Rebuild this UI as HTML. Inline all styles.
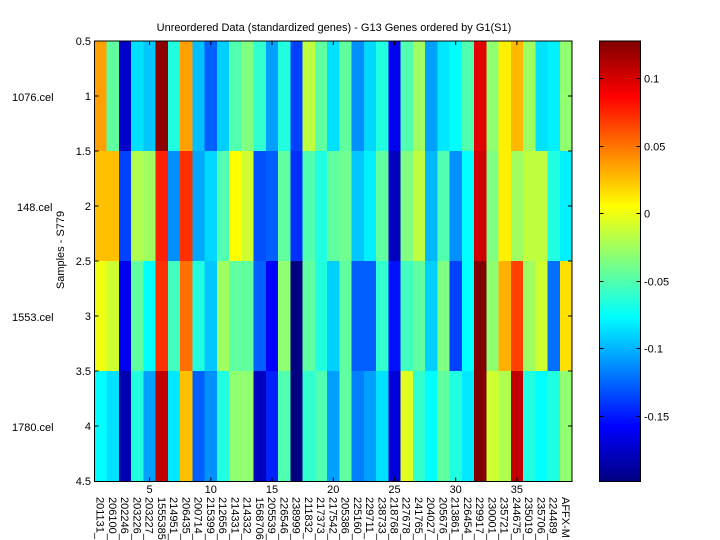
<!DOCTYPE html>
<html><head><meta charset="utf-8"><style>
html,body{margin:0;padding:0;background:#fff;}
svg{display:block;font-family:"Liberation Sans",sans-serif;}
</style></head><body>
<svg width="720" height="540" viewBox="0 0 720 540" xmlns="http://www.w3.org/2000/svg">
<defs>
<linearGradient id="jet" x1="0" y1="1" x2="0" y2="0">
<stop offset="0" stop-color="#000080"/>
<stop offset="0.125" stop-color="#0000ff"/>
<stop offset="0.375" stop-color="#00ffff"/>
<stop offset="0.625" stop-color="#ffff00"/>
<stop offset="0.875" stop-color="#ff0000"/>
<stop offset="1" stop-color="#800000"/>
</linearGradient>
</defs>
<rect width="720" height="540" fill="#fff"/>
<g transform="translate(94.5,41) scale(12.244,110)" shape-rendering="crispEdges">
<g id="r0">
<rect x="0" y="0" width="1.05" height="1.01" fill="#ffa000"/><rect x="1" y="0" width="1.05" height="1.01" fill="#60ffa0"/><rect x="2" y="0" width="1.05" height="1.01" fill="#0000c8"/><rect x="3" y="0" width="1.05" height="1.01" fill="#00e0ff"/><rect x="4" y="0" width="1.05" height="1.01" fill="#00c8ff"/><rect x="5" y="0" width="1.05" height="1.01" fill="#8c0000"/><rect x="6" y="0" width="1.05" height="1.01" fill="#20ffe0"/><rect x="7" y="0" width="1.05" height="1.01" fill="#ffa000"/><rect x="8" y="0" width="1.05" height="1.01" fill="#00c0ff"/><rect x="9" y="0" width="1.05" height="1.01" fill="#0060ff"/><rect x="10" y="0" width="1.05" height="1.01" fill="#00d0ff"/><rect x="11" y="0" width="1.05" height="1.01" fill="#50ffb0"/><rect x="12" y="0" width="1.05" height="1.01" fill="#80ff80"/><rect x="13" y="0" width="1.05" height="1.01" fill="#30ffd0"/><rect x="14" y="0" width="1.05" height="1.01" fill="#00a0ff"/><rect x="15" y="0" width="1.05" height="1.01" fill="#20ffe0"/><rect x="16" y="0" width="1.05" height="1.01" fill="#0040ff"/><rect x="17" y="0" width="1.05" height="1.01" fill="#c0ff40"/><rect x="18" y="0" width="1.05" height="1.01" fill="#60ffa0"/><rect x="19" y="0" width="1.05" height="1.01" fill="#00e0ff"/><rect x="20" y="0" width="1.05" height="1.01" fill="#60ffa0"/><rect x="21" y="0" width="1.05" height="1.01" fill="#0090ff"/><rect x="22" y="0" width="1.05" height="1.01" fill="#00d8ff"/><rect x="23" y="0" width="1.05" height="1.01" fill="#20ffe0"/><rect x="24" y="0" width="1.05" height="1.01" fill="#0000f0"/><rect x="25" y="0" width="1.05" height="1.01" fill="#50ffb0"/><rect x="26" y="0" width="1.05" height="1.01" fill="#a0ff60"/><rect x="27" y="0" width="1.05" height="1.01" fill="#00a0ff"/><rect x="28" y="0" width="1.05" height="1.01" fill="#00e8ff"/><rect x="29" y="0" width="1.05" height="1.01" fill="#00ffff"/><rect x="30" y="0" width="1.05" height="1.01" fill="#50ffb0"/><rect x="31" y="0" width="1.05" height="1.01" fill="#e00000"/><rect x="32" y="0" width="1.05" height="1.01" fill="#90ff70"/><rect x="33" y="0" width="1.05" height="1.01" fill="#fff000"/><rect x="34" y="0" width="1.05" height="1.01" fill="#ffb800"/><rect x="35" y="0" width="1.05" height="1.01" fill="#a0ff60"/><rect x="36" y="0" width="1.05" height="1.01" fill="#00e0ff"/><rect x="37" y="0" width="1.05" height="1.01" fill="#00f0ff"/><rect x="38" y="0" width="1" height="1.01" fill="#90ff70"/>
</g>
<g>
<rect x="0" y="1" width="1.05" height="1.01" fill="#ffc000"/><rect x="1" y="1" width="1.05" height="1.01" fill="#ffc000"/><rect x="2" y="1" width="1.05" height="1.01" fill="#0040ff"/><rect x="3" y="1" width="1.05" height="1.01" fill="#b0ff50"/><rect x="4" y="1" width="1.05" height="1.01" fill="#a0ff60"/><rect x="5" y="1" width="1.05" height="1.01" fill="#ff2000"/><rect x="6" y="1" width="1.05" height="1.01" fill="#0090ff"/><rect x="7" y="1" width="1.05" height="1.01" fill="#ff3000"/><rect x="8" y="1" width="1.05" height="1.01" fill="#00a8ff"/><rect x="9" y="1" width="1.05" height="1.01" fill="#00d8ff"/><rect x="10" y="1" width="1.05" height="1.01" fill="#50ffb0"/><rect x="11" y="1" width="1.05" height="1.01" fill="#ffff00"/><rect x="12" y="1" width="1.05" height="1.01" fill="#d0ff30"/><rect x="13" y="1" width="1.05" height="1.01" fill="#0050ff"/><rect x="14" y="1" width="1.05" height="1.01" fill="#0060ff"/><rect x="15" y="1" width="1.05" height="1.01" fill="#60ffa0"/><rect x="16" y="1" width="1.05" height="1.01" fill="#0030ff"/><rect x="17" y="1" width="1.05" height="1.01" fill="#50ffb0"/><rect x="18" y="1" width="1.05" height="1.01" fill="#20ffe0"/><rect x="19" y="1" width="1.05" height="1.01" fill="#60ffa0"/><rect x="20" y="1" width="1.05" height="1.01" fill="#70ff90"/><rect x="21" y="1" width="1.05" height="1.01" fill="#00c8ff"/><rect x="22" y="1" width="1.05" height="1.01" fill="#00f0ff"/><rect x="23" y="1" width="1.05" height="1.01" fill="#60ffa0"/><rect x="24" y="1" width="1.05" height="1.01" fill="#0000c0"/><rect x="25" y="1" width="1.05" height="1.01" fill="#80ff80"/><rect x="26" y="1" width="1.05" height="1.01" fill="#c0ff40"/><rect x="27" y="1" width="1.05" height="1.01" fill="#00b8ff"/><rect x="28" y="1" width="1.05" height="1.01" fill="#50ffb0"/><rect x="29" y="1" width="1.05" height="1.01" fill="#0090ff"/><rect x="30" y="1" width="1.05" height="1.01" fill="#00ffff"/><rect x="31" y="1" width="1.05" height="1.01" fill="#d00000"/><rect x="32" y="1" width="1.05" height="1.01" fill="#80ff80"/><rect x="33" y="1" width="1.05" height="1.01" fill="#fff000"/><rect x="34" y="1" width="1.05" height="1.01" fill="#a0ff60"/><rect x="35" y="1" width="1.05" height="1.01" fill="#c0ff40"/><rect x="36" y="1" width="1.05" height="1.01" fill="#c0ff40"/><rect x="37" y="1" width="1.05" height="1.01" fill="#20ffe0"/><rect x="38" y="1" width="1" height="1.01" fill="#00f0ff"/>
</g>
<g>
<rect x="0" y="2" width="1.05" height="1.01" fill="#f0ff10"/><rect x="1" y="2" width="1.05" height="1.01" fill="#d0ff30"/><rect x="2" y="2" width="1.05" height="1.01" fill="#0000f0"/><rect x="3" y="2" width="1.05" height="1.01" fill="#60ffa0"/><rect x="4" y="2" width="1.05" height="1.01" fill="#00ffff"/><rect x="5" y="2" width="1.05" height="1.01" fill="#ff3000"/><rect x="6" y="2" width="1.05" height="1.01" fill="#40ffc0"/><rect x="7" y="2" width="1.05" height="1.01" fill="#ff7000"/><rect x="8" y="2" width="1.05" height="1.01" fill="#20ffe0"/><rect x="9" y="2" width="1.05" height="1.01" fill="#00c8ff"/><rect x="10" y="2" width="1.05" height="1.01" fill="#a0ff60"/><rect x="11" y="2" width="1.05" height="1.01" fill="#60ffa0"/><rect x="12" y="2" width="1.05" height="1.01" fill="#60ffa0"/><rect x="13" y="2" width="1.05" height="1.01" fill="#0060ff"/><rect x="14" y="2" width="1.05" height="1.01" fill="#0000ff"/><rect x="15" y="2" width="1.05" height="1.01" fill="#90ff70"/><rect x="16" y="2" width="1.05" height="1.01" fill="#000080"/><rect x="17" y="2" width="1.05" height="1.01" fill="#60ffa0"/><rect x="18" y="2" width="1.05" height="1.01" fill="#20ffe0"/><rect x="19" y="2" width="1.05" height="1.01" fill="#00d0ff"/><rect x="20" y="2" width="1.05" height="1.01" fill="#60ffa0"/><rect x="21" y="2" width="1.05" height="1.01" fill="#0060ff"/><rect x="22" y="2" width="1.05" height="1.01" fill="#0060ff"/><rect x="23" y="2" width="1.05" height="1.01" fill="#30ffd0"/><rect x="24" y="2" width="1.05" height="1.01" fill="#0010ff"/><rect x="25" y="2" width="1.05" height="1.01" fill="#40ffc0"/><rect x="26" y="2" width="1.05" height="1.01" fill="#60ffa0"/><rect x="27" y="2" width="1.05" height="1.01" fill="#00d0ff"/><rect x="28" y="2" width="1.05" height="1.01" fill="#80ff80"/><rect x="29" y="2" width="1.05" height="1.01" fill="#0040ff"/><rect x="30" y="2" width="1.05" height="1.01" fill="#00ffff"/><rect x="31" y="2" width="1.05" height="1.01" fill="#800000"/><rect x="32" y="2" width="1.05" height="1.01" fill="#90ff70"/><rect x="33" y="2" width="1.05" height="1.01" fill="#ffb000"/><rect x="34" y="2" width="1.05" height="1.01" fill="#ff4000"/><rect x="35" y="2" width="1.05" height="1.01" fill="#a0ff60"/><rect x="36" y="2" width="1.05" height="1.01" fill="#d0ff30"/><rect x="37" y="2" width="1.05" height="1.01" fill="#0070ff"/><rect x="38" y="2" width="1" height="1.01" fill="#ffe000"/>
</g>
<g>
<rect x="0" y="3" width="1.05" height="1" fill="#00ffff"/><rect x="1" y="3" width="1.05" height="1" fill="#00e0ff"/><rect x="2" y="3" width="1.05" height="1" fill="#0000b0"/><rect x="3" y="3" width="1.05" height="1" fill="#20ffe0"/><rect x="4" y="3" width="1.05" height="1" fill="#00a0ff"/><rect x="5" y="3" width="1.05" height="1" fill="#c00000"/><rect x="6" y="3" width="1.05" height="1" fill="#00e8ff"/><rect x="7" y="3" width="1.05" height="1" fill="#ffc000"/><rect x="8" y="3" width="1.05" height="1" fill="#0060ff"/><rect x="9" y="3" width="1.05" height="1" fill="#0090ff"/><rect x="10" y="3" width="1.05" height="1" fill="#20ffe0"/><rect x="11" y="3" width="1.05" height="1" fill="#90ff70"/><rect x="12" y="3" width="1.05" height="1" fill="#90ff70"/><rect x="13" y="3" width="1.05" height="1" fill="#0000c0"/><rect x="14" y="3" width="1.05" height="1" fill="#0020ff"/><rect x="15" y="3" width="1.05" height="1" fill="#50ffb0"/><rect x="16" y="3" width="1.05" height="1" fill="#000080"/><rect x="17" y="3" width="1.05" height="1" fill="#30ffd0"/><rect x="18" y="3" width="1.05" height="1" fill="#50ffb0"/><rect x="19" y="3" width="1.05" height="1" fill="#00a0ff"/><rect x="20" y="3" width="1.05" height="1" fill="#60ffa0"/><rect x="21" y="3" width="1.05" height="1" fill="#0080ff"/><rect x="22" y="3" width="1.05" height="1" fill="#00a0ff"/><rect x="23" y="3" width="1.05" height="1" fill="#00e0ff"/><rect x="24" y="3" width="1.05" height="1" fill="#0000d8"/><rect x="25" y="3" width="1.05" height="1" fill="#e0ff20"/><rect x="26" y="3" width="1.05" height="1" fill="#30ffd0"/><rect x="27" y="3" width="1.05" height="1" fill="#00ffff"/><rect x="28" y="3" width="1.05" height="1" fill="#60ffa0"/><rect x="29" y="3" width="1.05" height="1" fill="#20ffe0"/><rect x="30" y="3" width="1.05" height="1" fill="#00e8ff"/><rect x="31" y="3" width="1.05" height="1" fill="#800000"/><rect x="32" y="3" width="1.05" height="1" fill="#d0ff30"/><rect x="33" y="3" width="1.05" height="1" fill="#b0ff50"/><rect x="34" y="3" width="1.05" height="1" fill="#c00000"/><rect x="35" y="3" width="1.05" height="1" fill="#20ffe0"/><rect x="36" y="3" width="1.05" height="1" fill="#00ffff"/><rect x="37" y="3" width="1.05" height="1" fill="#20ffe0"/><rect x="38" y="3" width="1" height="1" fill="#90ff70"/>
</g>
</g>
<!-- axes box -->
<rect x="94.5" y="41" width="477.5" height="440.5" fill="none" stroke="#000" stroke-width="1"/>
<g stroke="#000" stroke-width="1">
<!-- x ticks at cols 5,10,...35 -->
<path d="M149.6 41v4M149.6 481.5v-4M210.8 41v4M210.8 481.5v-4M272.0 41v4M272.0 481.5v-4M333.3 41v4M333.3 481.5v-4M394.5 41v4M394.5 481.5v-4M455.7 41v4M455.7 481.5v-4M516.9 41v4M516.9 481.5v-4"/>
<!-- y ticks -->
<path d="M94.5 96h4M572 96h-4M94.5 151h4M572 151h-4M94.5 206h4M572 206h-4M94.5 261h4M572 261h-4M94.5 316h4M572 316h-4M94.5 371h4M572 371h-4M94.5 426h4M572 426h-4"/>
</g>
<g font-size="11" fill="#000">
<text x="334" y="31" text-anchor="middle">Unreordered Data (standardized genes) - G13 Genes ordered by G1(S1)</text>
<g text-anchor="end">
<text x="91" y="45">0.5</text><text x="91" y="100">1</text><text x="91" y="155">1.5</text><text x="91" y="210">2</text><text x="91" y="265">2.5</text><text x="91" y="320">3</text><text x="91" y="375">3.5</text><text x="91" y="430">4</text><text x="91" y="485">4.5</text>
</g>
<text x="12" y="101">1076.cel</text>
<text x="17" y="211">148.cel</text>
<text x="12" y="321">1553.cel</text>
<text x="12" y="431">1780.cel</text>
<text transform="translate(64,250) rotate(-90)" text-anchor="middle">Samples - S779</text>
<g text-anchor="middle">
<text x="149.6" y="493">5</text><text x="210.8" y="493">10</text><text x="272" y="493">15</text><text x="333.3" y="493">20</text><text x="394.5" y="493">25</text><text x="455.7" y="493">30</text><text x="516.9" y="493">35</text>
</g>
<g font-size="11">
<text transform="translate(96.6,497) rotate(90)">201131_</text>
<text transform="translate(108.9,497) rotate(90)">206100_</text>
<text transform="translate(121.1,497) rotate(90)">202246_</text>
<text transform="translate(133.4,497) rotate(90)">203226_</text>
<text transform="translate(145.6,497) rotate(90)">203227_</text>
<text transform="translate(157.8,497) rotate(90)">1555385</text>
<text transform="translate(170.1,497) rotate(90)">214951_</text>
<text transform="translate(182.3,497) rotate(90)">206435_</text>
<text transform="translate(194.6,497) rotate(90)">200714_</text>
<text transform="translate(206.8,497) rotate(90)">215399_</text>
<text transform="translate(219.1,497) rotate(90)">212656_</text>
<text transform="translate(231.3,497) rotate(90)">214331_</text>
<text transform="translate(243.6,497) rotate(90)">214332_</text>
<text transform="translate(255.8,497) rotate(90)">1568706</text>
<text transform="translate(268.1,497) rotate(90)">205539_</text>
<text transform="translate(280.3,497) rotate(90)">226546_</text>
<text transform="translate(292.5,497) rotate(90)">238999_</text>
<text transform="translate(304.8,497) rotate(90)">211832_</text>
<text transform="translate(317.0,497) rotate(90)">217373_</text>
<text transform="translate(329.3,497) rotate(90)">217542_</text>
<text transform="translate(341.5,497) rotate(90)">205386_</text>
<text transform="translate(353.8,497) rotate(90)">225160_</text>
<text transform="translate(366.0,497) rotate(90)">229711_</text>
<text transform="translate(378.3,497) rotate(90)">238733_</text>
<text transform="translate(390.5,497) rotate(90)">218768_</text>
<text transform="translate(402.7,497) rotate(90)">227678_</text>
<text transform="translate(415.0,497) rotate(90)">241765_</text>
<text transform="translate(427.2,497) rotate(90)">204027_</text>
<text transform="translate(439.5,497) rotate(90)">205676_</text>
<text transform="translate(451.7,497) rotate(90)">213861_</text>
<text transform="translate(464.0,497) rotate(90)">226454_</text>
<text transform="translate(476.2,497) rotate(90)">229917_</text>
<text transform="translate(488.4,497) rotate(90)">230001_</text>
<text transform="translate(500.7,497) rotate(90)">235721_</text>
<text transform="translate(512.9,497) rotate(90)">244675_</text>
<text transform="translate(525.2,497) rotate(90)">235019_</text>
<text transform="translate(537.4,497) rotate(90)">235706_</text>
<text transform="translate(549.7,497) rotate(90)">224489_</text>
<text transform="translate(561.9,497) rotate(90)">AFFX-M</text>
</g>
</g>
<!-- colorbar -->
<rect x="599.5" y="41" width="41" height="440.5" fill="url(#jet)" stroke="#000" stroke-width="1"/>
<g stroke="#000" stroke-width="1">
<path d="M599.5 78.5h4M640.5 78.5h-4M599.5 146.5h4M640.5 146.5h-4M599.5 213.5h4M640.5 213.5h-4M599.5 281.5h4M640.5 281.5h-4M599.5 348.5h4M640.5 348.5h-4M599.5 416.5h4M640.5 416.5h-4"/>
</g>
<g font-size="11" fill="#000">
<text x="644" y="82.5">0.1</text>
<text x="644" y="150.5">0.05</text>
<text x="644" y="217.5">0</text>
<text x="644" y="285.5">-0.05</text>
<text x="644" y="352.5">-0.1</text>
<text x="644" y="420.5">-0.15</text>
</g>
</svg>
</body></html>
